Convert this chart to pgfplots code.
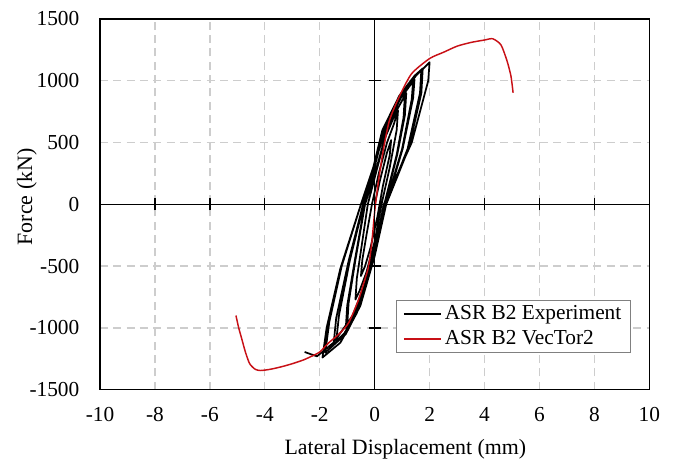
\documentclass[border=0pt]{standalone}
\usepackage{fontspec}
\setmainfont{Liberation Serif}
\usepackage{pgfplots}
\pgfplotsset{compat=1.18}

\definecolor{vtred}{RGB}{200,16,22}
\definecolor{gridgray}{RGB}{205,205,205}

\begin{document}
\fontsize{16}{19}\selectfont
\begin{tikzpicture}
\pgfplotsset{
  common/.style={
    scale only axis,
    width=412pt, height=278pt,
    xmin=-10, xmax=10, ymin=-1500, ymax=1500,
    xtick={-10,-8,...,10},
    ytick={-1500,-1000,...,1500},
  }
}
% frame, grid, labels, data
\begin{axis}[
  common,
  axis line style={black, line width=1pt},
  major tick length=0pt,
  grid=major,
  grid style={gridgray, line width=1pt, dash pattern=on 6pt off 4pt},
  tick label style={font=\fontsize{16}{19}\selectfont},
  /pgf/number format/assume math mode=true,
  /pgf/number format/1000 sep={},
  xticklabel style={yshift=-8pt},
  yticklabel style={xshift=-10pt},
  xlabel={Lateral Displacement (mm)},
  ylabel={Force (kN)},
  label style={font=\fontsize{16.4}{19}\selectfont},
  xlabel style={at={(axis description cs:0.556,-0.162)}, anchor=center},
  ylabel style={at={(axis description cs:-0.133,0.52)}, anchor=center},
  legend style={at={(0.967,0.098)}, anchor=south east, draw=gray, line width=0.8pt,
    fill=white, font=\fontsize{16}{19}\selectfont, row sep=1.5pt, inner sep=2pt,
    inner xsep=5pt},
  legend cell align=left,
  legend image code/.code={\draw[#1] (0pt,0pt) -- (28pt,0pt);},
]
%% ASR B2 Experiment (cyclic loops)
\addplot[black, line width=1.3pt, line join=round] coordinates {
  (0,0) (0.2,200) (0.45,420) (0.6,520) (0.55,400) (0.3,150) (0.1,-100) (-0.15,-350)
  (-0.35,-500) (-0.5,-580) (-0.45,-450) (-0.3,-250) (-0.1,0)
  (0.15,250) (0.45,500) (0.7,650) (0.85,760) (0.8,600) (0.55,300) (0.25,0) (0,-300)
  (-0.3,-550) (-0.55,-700) (-0.7,-770) (-0.65,-600) (-0.45,-300) (-0.25,0)
  (0.1,300) (0.4,550) (0.8,760) (1.1,880) (1.05,700) (0.8,400) (0.35,0) (0.05,-300)
  (-0.35,-650) (-0.75,-900) (-1.0,-980) (-0.95,-800) (-0.7,-450) (-0.35,0)
  (0.05,280) (0.4,560) (0.85,780) (1.15,900) (1.1,720) (0.82,400) (0.36,0) (0.04,-320)
  (-0.4,-680) (-0.8,-920) (-1.05,-1000) (-1.0,-820) (-0.72,-450) (-0.36,0)
  (0.05,350) (0.35,600) (0.9,850) (1.4,1000) (1.35,850) (1.0,450) (0.4,0) (0.0,-400)
  (-0.5,-800) (-1.0,-1020) (-1.4,-1110) (-1.3,-900) (-0.9,-450) (-0.4,0)
  (0.05,360) (0.4,620) (0.95,860) (1.45,1010) (1.4,860) (1.02,450) (0.42,0) (0.0,-420)
  (-0.52,-820) (-1.05,-1050) (-1.5,-1140) (-1.4,-920) (-0.95,-460) (-0.42,0)
  (0.0,300) (0.3,600) (0.9,880) (1.4,1020) (1.7,1090) (1.65,900) (1.2,450) (0.4,0)
  (-0.05,-450) (-0.6,-850) (-1.2,-1080) (-1.8,-1200) (-1.65,-950) (-1.2,-500) (-0.5,0)
  (-0.05,300) (0.28,600) (0.9,880) (1.45,1040) (1.75,1100) (1.7,900) (1.25,460) (0.42,0)
  (-0.05,-460) (-0.65,-880) (-1.25,-1120) (-1.9,-1240) (-1.75,-1000) (-1.25,-520) (-0.5,0)
  (0.25,500) (0.9,850) (1.5,1040) (2.0,1150) (1.95,1000) (1.35,500) (0.33,0)
  (-0.1,-500) (-0.8,-900) (-1.5,-1120) (-2.1,-1230) (-2.3,-1215) (-2.55,-1195)};
\addlegendentry{ASR B2 Experiment}

%% ASR B2 VecTor2 (analysis)
\addplot[vtred, line width=1.1pt, smooth, tension=0.4] coordinates {
  (-5.05,-900) (-4.95,-1000) (-4.85,-1080) (-4.7,-1200) (-4.55,-1290) (-4.35,-1335)
  (-4.15,-1345) (-3.8,-1335) (-3.4,-1315) (-3.0,-1290) (-2.6,-1260) (-2.3,-1230)
  (-2.0,-1195) (-1.67,-1120) (-1.3,-1050) (-0.95,-960) (-0.6,-780) (-0.4,-640)
  (-0.22,-500) (-0.1,-300) (0,-60) (0.14,190) (0.33,460) (0.54,680) (0.87,860)
  (1.34,1056) (2.0,1180) (2.5,1230) (3.0,1280) (3.5,1310) (4.0,1330) (4.3,1340)
  (4.6,1290) (4.82,1160) (4.96,1040) (5.04,903)};
\addlegendentry{ASR B2 VecTor2}
\end{axis}

% centre axes with crossing ticks
\begin{axis}[
  common,
  axis lines=middle,
  axis line style={black, line width=1pt, -},
  tick style={black, line width=1pt},
  major tick length=9pt,
  tick align=center,
  xticklabels={}, yticklabels={},
]
\end{axis}

\pgfresetboundingbox
\path (-75pt,-53.25pt) rectangle (430.5pt,292.25pt);
\end{tikzpicture}
\end{document}
